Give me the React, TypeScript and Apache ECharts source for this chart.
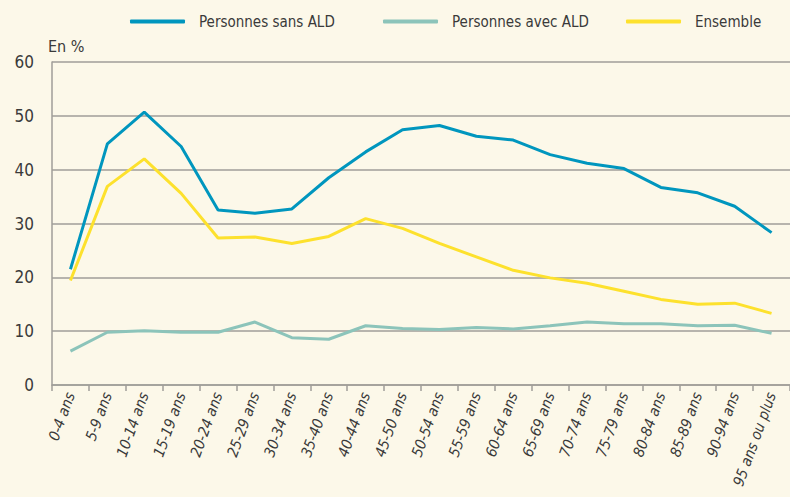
import React, { useEffect, useRef } from "react";
import * as echarts from "echarts";

const categories = [
  "0-4 ans", "5-9 ans", "10-14 ans", "15-19 ans", "20-24 ans", "25-29 ans",
  "30-34 ans", "35-40 ans", "40-44 ans", "45-50 ans", "50-54 ans", "55-59 ans",
  "60-64 ans", "65-69 ans", "70-74 ans", "75-79 ans", "80-84 ans", "85-89 ans",
  "90-94 ans", "95 ans ou plus",
];
const sansALD = [21.5, 44.8, 50.7, 44.3, 32.5, 31.9, 32.7, 38.5, 43.3, 47.4, 48.2, 46.2, 45.5, 42.8, 41.2, 40.2, 36.7, 35.7, 33.2, 28.3];
const avecALD = [6.3, 9.8, 10.1, 9.8, 9.8, 11.7, 8.8, 8.5, 11.0, 10.5, 10.3, 10.7, 10.4, 11.0, 11.7, 11.4, 11.4, 11.0, 11.1, 9.6];
const ensemble = [19.4, 36.9, 42.0, 35.6, 27.3, 27.5, 26.3, 27.6, 30.9, 29.1, 26.3, 23.8, 21.3, 19.9, 18.9, 17.4, 15.9, 15.0, 15.2, 13.3];
const seriesNames = ["Personnes sans ALD", "Personnes avec ALD", "Ensemble"];
const colors = ["#0096be", "#8cc4ba", "#fde12d"];
const legendLefts = [130, 383, 626];

const FONT = "'DejaVu Sans Condensed', 'Liberation Sans Narrow', 'Roboto', sans-serif";
const TEXT = "#3a3a3a";
const GRIDC = "#a09e99";

export default function App() {
  const ref = useRef<HTMLDivElement>(null);
  useEffect(() => {
    if (!ref.current) return;
    const chart = echarts.init(ref.current, null, { renderer: "svg" });
    const mk = (name: string, data: number[], color: string) => ({
      name,
      type: "line",
      data,
      showSymbol: false,
      symbol: "none",
      lineStyle: { color, width: 3 },
      itemStyle: { color },
    });
    chart.setOption({
      animation: false,
      backgroundColor: "#fcf8e9",
      textStyle: { fontFamily: FONT },
      legend: seriesNames.map((n, i) => ({
        data: [n],
        top: 14,
        left: legendLefts[i],
        padding: 0,
        itemWidth: 55,
        itemHeight: 4,
        icon: "roundRect",
        textStyle: { fontFamily: FONT, fontSize: 15, color: TEXT, padding: [0, 0, 0, 9] },
      })),
      grid: { left: 52, top: 62, bottom: 112, width: 741, containLabel: false },
      xAxis: {
        type: "category",
        data: categories,
        boundaryGap: true,
        axisLine: { lineStyle: { color: GRIDC, width: 1.5 } },
        axisTick: { show: true, alignWithLabel: false, length: 6, lineStyle: { color: GRIDC, width: 1.5 } },
        axisLabel: {
          interval: 0,
          rotate: 70,
          fontStyle: "italic",
          fontFamily: FONT,
          fontSize: 15,
          color: TEXT,
          margin: 8,
        },
      },
      yAxis: {
        type: "value",
        min: 0,
        max: 60,
        interval: 10,
        name: "En %",
        nameLocation: "end",
        nameGap: 8,
        nameTextStyle: { fontFamily: FONT, fontSize: 16, color: TEXT, align: "left", padding: [0, 0, 0, -4] },
        axisLine: { show: true, lineStyle: { color: GRIDC, width: 1.5 } },
        axisTick: { show: false },
        axisLabel: { fontFamily: FONT, fontSize: 17, color: TEXT, margin: 18 },
        splitLine: { lineStyle: { color: GRIDC, width: 1.5 } },
      },
      series: [
        mk(seriesNames[0], sansALD, colors[0]),
        mk(seriesNames[1], avecALD, colors[1]),
        mk(seriesNames[2], ensemble, colors[2]),
      ],
    });
    return () => chart.dispose();
  }, []);
  return <div ref={ref} style={{ width: 790, height: 497, position: "absolute", left: 0, top: 0 }} />;
}
